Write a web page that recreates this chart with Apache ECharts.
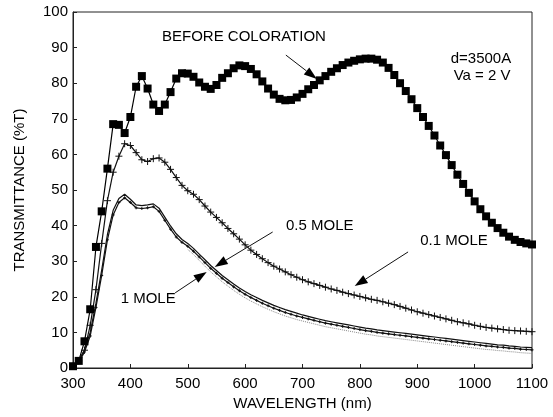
<!DOCTYPE html>
<html>
<head>
<meta charset="utf-8">
<script src="https://cdn.jsdelivr.net/npm/echarts@6/dist/echarts.min.js"></script>
<style>
html,body{margin:0;padding:0;background:#fff;}
#c{width:553px;height:417px;}
</style>
</head>
<body>
<div id="c"></div>
<script>
// Wavelength (nm)
var wavelength = [300,310,320,330,340,350,360,370,380,390,400,410,420,430,440,450,460,470,480,490,
500,510,520,530,540,550,560,570,580,590,600,610,620,630,640,650,660,670,680,690,
700,710,720,730,740,750,760,770,780,790,800,810,820,830,840,850,860,870,880,890,
900,910,920,930,940,950,960,970,980,990,1000,1010,1020,1030,1040,1050,1060,1070,1080,1090,1100];

// BEFORE COLORATION
var beforeColoration = [0.5,2,7.5,16.5,34,44,56,68.5,68.3,66,70.5,79,82,78.5,74,72.2,74,77.5,81.3,82.8,
82.7,81.8,80.2,79,78.4,79.5,81.5,82.8,84.2,85,84.8,84,82.5,80.5,78.5,76.8,75.6,75.2,75.3,76,
77,78.3,79.5,80.8,82,83.2,84.2,85.1,85.8,86.3,86.7,86.9,86.9,86.6,85.8,84.3,82.3,80,77.8,75.5,
73,70.5,68,65.3,62.5,59.8,57,54.3,51.7,49.2,46.8,44.6,42.6,40.8,39.3,38,36.9,36,35.4,35,34.7];

// 0.1 MOLE
var mole01 = [0.5,2,5,12,22,35,47,55,59.5,63,62.5,60.5,58.5,58,58.8,59,57.8,55.8,53.5,51.3,
49.8,48.8,47.3,45.5,43.8,42.3,40.8,39.2,37.7,36.2,34.6,33.1,31.9,30.7,29.6,28.6,27.8,27,26.2,25.5,
24.8,24.2,23.7,23.2,22.7,22.2,21.8,21.3,20.9,20.5,20.1,19.7,19.3,19,18.6,18.2,17.8,17.3,16.8,16.3,
15.8,15.4,15,14.6,14.2,13.8,13.4,13,12.7,12.4,12,11.7,11.4,11.2,11,10.8,10.6,10.5,10.4,10.3,10.2];

// 0.5 MOLE
var mole05 = [0.4,1.8,5.2,10,18.2,27.5,37.5,44.3,47.6,48.8,47.4,45.8,45.6,45.8,46.1,44.9,42.4,39.9,37.7,36.1,
35,33.6,32,30.4,28.8,27.4,26,24.8,23.6,22.5,21.5,20.6,19.8,19,18.3,17.6,17,16.4,15.9,15.4,
14.9,14.5,14.1,13.7,13.3,13,12.7,12.4,12.1,11.8,11.5,11.2,11,10.7,10.5,10.3,10.1,9.9,9.7,9.5,
9.3,9.1,8.9,8.7,8.5,8.3,8.1,7.9,7.7,7.5,7.3,7.1,6.9,6.7,6.5,6.4,6.2,6.1,5.9,5.8,5.7];

// 1 MOLE
var mole1 = [0.3,1.5,4.5,9,17,26,36,43,46.5,47.8,46.5,45,44.8,45,45.3,44,41.5,39,36.8,35.3,
34.2,32.8,31.2,29.6,28,26.6,25.2,24,22.8,21.7,20.7,19.8,19,18.2,17.5,16.8,16.2,15.6,15.1,14.6,
14.2,13.8,13.4,13,12.6,12.3,12,11.7,11.4,11.1,10.8,10.5,10.3,10,9.8,9.6,9.4,9.2,9,8.8,
8.6,8.4,8.2,8,7.8,7.6,7.4,7.2,7,6.8,6.6,6.4,6.2,6.1,5.9,5.8,5.6,5.5,5.3,5.2,5.1];

// faint dotted trace below the 1 MOLE curve
var dottedTrace = [null,null,null,null,null,null,null,null,null,null,null,null,null,null,null,null,null,null,null,null,
33.3,31.9,30.2,28.6,27,25.6,24.2,23,21.8,20.7,19.7,18.8,18,17.2,16.5,15.8,15.2,14.6,14.1,13.6,
13.2,12.8,12.4,12,11.6,11.3,11,10.7,10.4,10.1,9.8,9.5,9.3,9,8.8,8.6,8.4,8.2,8,7.8,
7.6,7.4,7.2,7,6.8,6.6,6.4,6.2,6,5.8,5.6,5.4,5.2,5.1,4.9,4.8,4.6,4.5,4.3,4.2,4.1];

var xTicks = [300,400,500,600,700,800,900,1000,1100];
var yTicks = [0,10,20,30,40,50,60,70,80,90,100];

// Annotations (data coordinates)
var labels = [
  {text:'BEFORE COLORATION', x:598, y:93},
  {text:'d=3500A', x:1011, y:86.8},
  {text:'Va = 2 V', x:1013, y:82},
  {text:'0.5 MOLE', x:730, y:39.9},
  {text:'0.1 MOLE', x:964, y:35.7},
  {text:'1 MOLE', x:431, y:19.4}
];
var arrows = [
  [[671,87.9],[725,81.2]],
  [[648,38.2],[547,28.4]],
  [[884,32.6],[791,23]],
  [[478,21.1],[533,27]]
];

function pairs(arr){ return wavelength.map(function(w,i){ return [w, arr[i]]; }); }

var FONT = '"Liberation Sans", Arial, Helvetica, sans-serif';
var plus = 'path://M0,5L10,5M5,0L5,10';

var chart = echarts.init(document.getElementById('c'), null, {renderer:'canvas'});
var option = {
  animation:false,
  backgroundColor:'#fff',
  grid:{left:73,right:21,top:12,bottom:49,show:true,borderColor:'#222',borderWidth:1},
  xAxis:{
    type:'value',min:300,max:1100,interval:100,
    name:'WAVELENGTH (nm)',nameLocation:'middle',nameGap:21,
    nameTextStyle:{fontFamily:FONT,fontSize:15,color:'#000'},
    axisLine:{show:true,lineStyle:{color:'#222',width:1}},
    axisTick:{show:true,inside:true,length:4,lineStyle:{color:'#222'}},
    axisLabel:{fontFamily:FONT,fontSize:15,color:'#000',margin:8,
      formatter:function(v){return xTicks.indexOf(v)>=0?String(v):'';}},
    splitLine:{show:false}
  },
  yAxis:{
    type:'value',min:0,max:100,interval:10,
    name:'TRANSMITTANCE (%T)',nameLocation:'middle',nameGap:46,
    nameTextStyle:{fontFamily:FONT,fontSize:15,color:'#000'},
    axisLine:{show:true,lineStyle:{color:'#222',width:1}},
    axisTick:{show:true,inside:true,length:4,lineStyle:{color:'#222'}},
    axisLabel:{fontFamily:FONT,fontSize:15,color:'#000',margin:5,
      formatter:function(v){return yTicks.indexOf(v)>=0?String(v):'';}},
    splitLine:{show:false}
  },
  series:[
    {name:'dotted',type:'line',data:pairs(dottedTrace),symbol:'none',silent:true,
     lineStyle:{color:'#888',width:1,type:'dotted'},z:1},
    {name:'1 MOLE',type:'line',data:pairs(mole1),symbol:plus,symbolSize:3,
     itemStyle:{color:'#111',borderColor:'#111',borderWidth:1},
     lineStyle:{color:'#111',width:1.2},z:2},
    {name:'0.5 MOLE',type:'line',data:pairs(mole05),symbol:'none',
     lineStyle:{color:'#111',width:1.2},z:2},
    {name:'0.1 MOLE',type:'line',data:pairs(mole01),symbol:plus,symbolSize:7,
     itemStyle:{color:'#111',borderColor:'#111',borderWidth:1},
     lineStyle:{color:'#111',width:1.2},z:3},
    {name:'BEFORE COLORATION',type:'line',data:pairs(beforeColoration),symbol:'rect',symbolSize:8,
     itemStyle:{color:'#000'},lineStyle:{color:'#000',width:1.2},z:4}
  ]
};
chart.setOption(option);

var g = [];
labels.forEach(function(l){
  var p = chart.convertToPixel({gridIndex:0},[l.x,l.y]);
  g.push({type:'text',x:p[0],y:p[1],z:10,
    style:{text:l.text,fill:'#000',font:'15px '+FONT,textAlign:'center',textVerticalAlign:'middle'}});
});
arrows.forEach(function(a){
  var s = chart.convertToPixel({gridIndex:0},a[0]);
  var t = chart.convertToPixel({gridIndex:0},a[1]);
  var dx = t[0]-s[0], dy = t[1]-s[1], len = Math.sqrt(dx*dx+dy*dy);
  var ux = dx/len, uy = dy/len, hl = 13, hw = 4.5;
  var bx = t[0]-ux*hl, by = t[1]-uy*hl;
  g.push({type:'line',z:10,shape:{x1:s[0],y1:s[1],x2:bx,y2:by},style:{stroke:'#111',lineWidth:1}});
  g.push({type:'polygon',z:10,shape:{points:[[t[0],t[1]],[bx-uy*hw,by+ux*hw],[bx+uy*hw,by-ux*hw]]},
    style:{fill:'#000'}});
});
chart.setOption({graphic:g});
</script>
</body>
</html>
